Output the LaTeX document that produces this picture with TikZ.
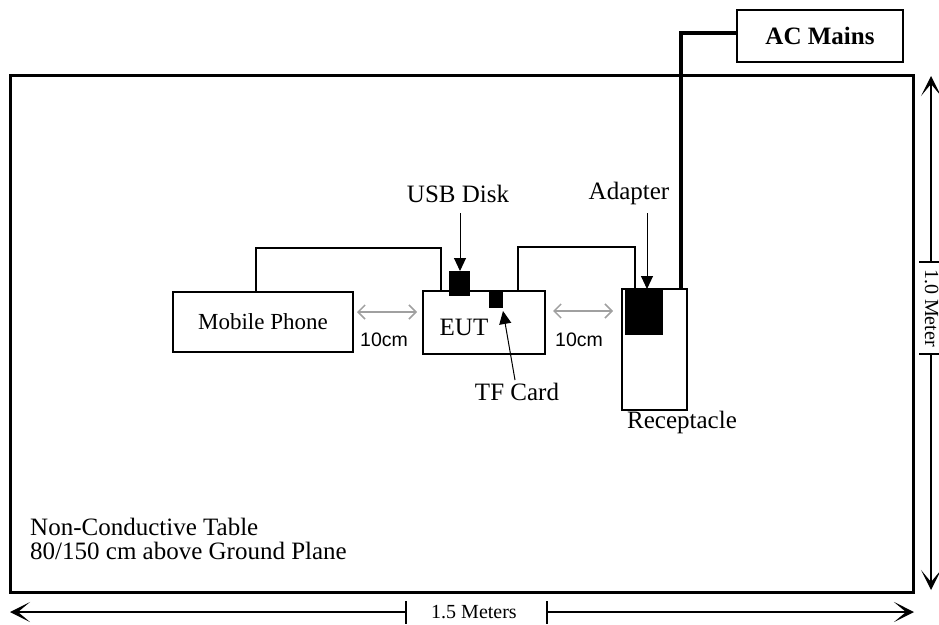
\documentclass[tikz,border=0pt]{standalone}
\usepackage{fontspec}
\setmainfont{Liberation Serif}
\newfontfamily\arialfont{Liberation Sans}
\usetikzlibrary{arrows.meta,calc}
\definecolor{arrowgray}{RGB}{160,160,160}
\begin{document}
\begin{tikzpicture}[x=1pt,y=-1pt,
  box/.style={draw,line width=1.6pt,inner sep=0pt,outer sep=0pt},
  tablebox/.style={draw,line width=3pt,inner sep=0pt,outer sep=0pt},
  blackbox/.style={fill=black,draw=none,inner sep=0pt,outer sep=0pt},
  wire/.style={line width=1.2pt},
  cable/.style={line width=3.5pt},
  blk/.style={line width=1pt,-{Triangle[length=13pt,width=12pt]}},
  gry/.style={draw=arrowgray,line width=1.5pt,{Straight Barb[length=7pt,width=14pt]}-{Straight Barb[length=7pt,width=14pt]}},
  dim/.style={line width=1.4pt,-{Stealth[length=20pt,width=20pt,inset=12pt]}},
  tick/.style={line width=1.3pt},
  lbl/.style={font=\fontsize{25}{30}\selectfont,inner sep=0pt},
  boxtxt/.style={font=\fontsize{23}{28}\selectfont},
  dimtxt/.style={font=\fontsize{20}{24}\selectfont,inner sep=0pt},
  cmtxt/.style={font=\arialfont\fontsize{19.5}{24}\selectfont,inner sep=0pt}
]
\useasboundingbox (0,0) rectangle (939,624);

% table
\node[tablebox,minimum width=903pt,minimum height=517pt] (table) at (461.5,333.5) {};

% AC mains
\node[box,minimum width=166pt,minimum height=52pt,font=\bfseries\fontsize{25}{30}\selectfont] (mains) at (820,36) {AC Mains};

% boxes
\node[box,boxtxt,minimum width=180pt,minimum height=60pt] (phone) at (263,322) {Mobile Phone};
\node[box,minimum width=122pt,minimum height=63pt] (eut) at (484,322.5) {};
\node[lbl,anchor=base] (euttxt) at (464,335) {EUT};
\node[box,line width=2pt,minimum width=65pt,minimum height=121pt] (recept) at (654.5,349.5) {};
\node[blackbox,minimum width=38pt,minimum height=46pt] (adapter) at (644,312) {};
\node[blackbox,minimum width=21pt,minimum height=25pt] (usb) at (459.5,283.5) {};
\node[blackbox,minimum width=14pt,minimum height=18pt] (tf) at (496,299) {};

% labels
\node[lbl,anchor=base] (usbl) at (458,202) {USB Disk};
\node[lbl,anchor=base] (adl) at (629,199) {Adapter};
\node[lbl,anchor=base west] (recl) at (627,428) {Receptacle};
\node[lbl,anchor=base] (tfl) at (517,400) {TF Card};
\node[lbl,anchor=base west] (nct1) at (30,535) {Non-Conductive Table};
\node[lbl,anchor=base west] (nct2) at (30,559) {80/150 cm above Ground Plane};
\node[cmtxt,anchor=base] (cm1) at (384,346) {10cm};
\node[cmtxt,anchor=base] (cm2) at (579,346) {10cm};

% wires
\coordinate (w1) at (256,248);
\coordinate (w2) at (441,248);
\draw[wire] (w1 |- phone.north) -- (w1) -- (w2) -- (w2 |- eut.north);
\coordinate (w3) at (518,247);
\coordinate (w4) at (635,247);
\draw[wire] (w3 |- eut.north) -- (w3) -- (w4) -- (w4 |- adapter.north);
\coordinate (m1) at (681,33);
\draw[cable] (mains.west |- m1) -- (m1) -- (m1 |- recept.north);

% pointer arrows
\coordinate (ua) at (460,213);
\draw[blk] (ua) -- (ua |- usb.north);
\coordinate (aa) at (647,213);
\draw[blk] (aa) -- (aa |- adapter.north);
\coordinate (ta) at (515,380);
\coordinate (tb) at (503,311);
\draw[blk] (ta) -- (tb);

% gray distance arrows
\coordinate (g1) at (357,312);
\coordinate (g2) at (417,312);
\coordinate (g3) at (553,311);
\coordinate (g4) at (613,311);
\draw[gry] (g1) -- (g2);
\draw[gry] (g3) -- (g4);

% bottom dimension
\coordinate (b0) at (10,612);
\coordinate (b1) at (406,612);
\coordinate (b2) at (547,612);
\coordinate (b3) at (914,612);
\draw[dim] (b1) -- (b0);
\draw[dim] (b2) -- (b3);
\draw[tick] (406,601) -- (406,624);
\draw[tick] (547,601) -- (547,624);
\node[dimtxt] (bl) at (474,612) {1.5 Meters};

% right dimension
\coordinate (r0) at (931,76);
\coordinate (r1) at (931,262);
\coordinate (r2) at (931,354);
\coordinate (r3) at (931,590);
\draw[dim] (r1) -- (r0);
\draw[dim] (r2) -- (r3);
\draw[tick] (919,262) -- (939,262);
\draw[tick] (919,354) -- (939,354);
\node[dimtxt,rotate=-90] (rl) at (931.5,308) {1.0 Meter};
\end{tikzpicture}
\end{document}
